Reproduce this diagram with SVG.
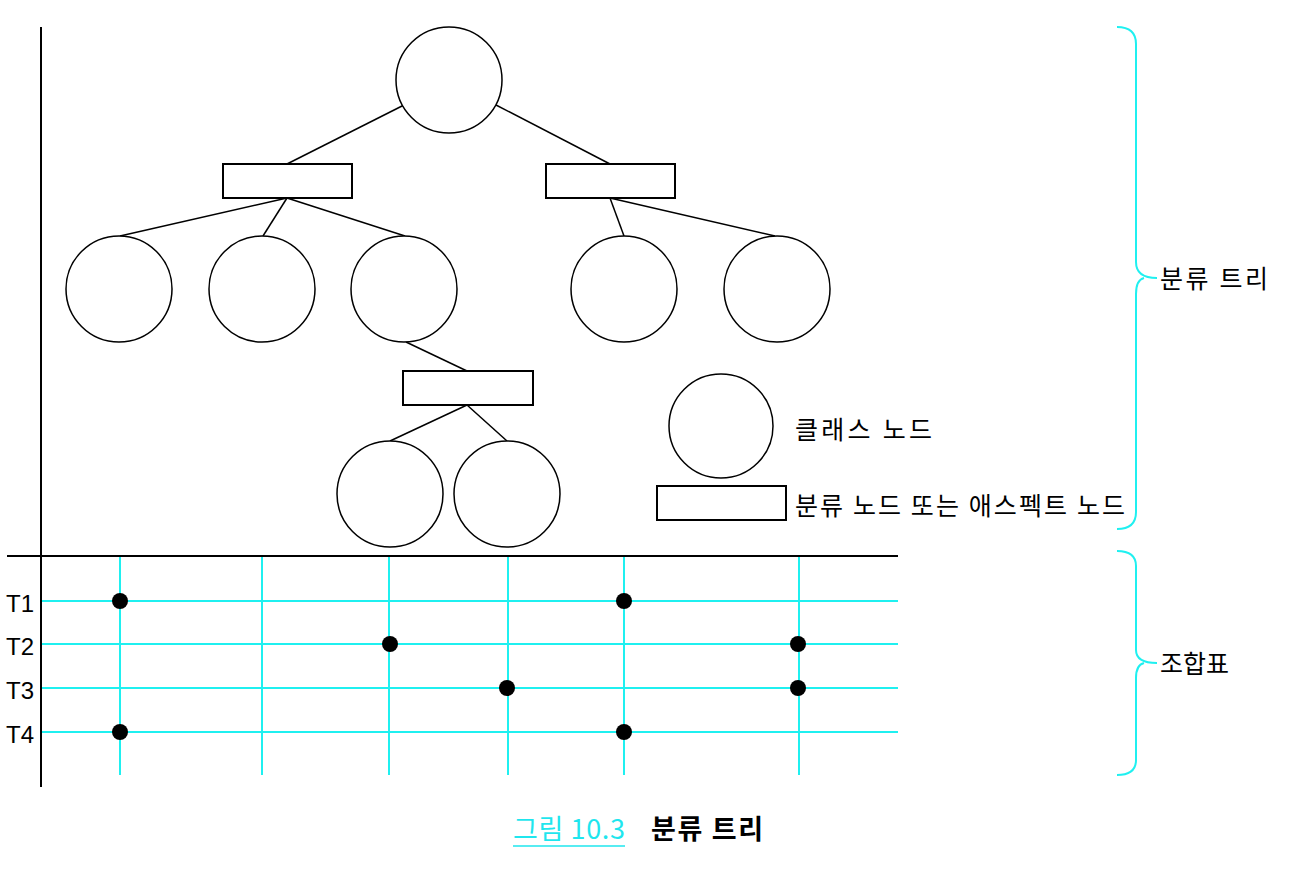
<svg xmlns="http://www.w3.org/2000/svg" width="1312" height="876" viewBox="0 0 1312 876">
<style>
.n{fill:#fff;stroke:#000;stroke-width:1.5}
.r{fill:#fff;stroke:#000;stroke-width:2}
.e{stroke:#000;stroke-width:1.5;fill:none}
.c{stroke:#1ff0f0;stroke-width:2;fill:none}
.ax{stroke:#000;stroke-width:2;fill:none}
.d{fill:#000}
.t{font-family:"Noto Sans CJK KR","Noto Sans",sans-serif;font-size:25px;fill:#000}
.l{font-family:"Liberation Sans",Arial,sans-serif;font-size:24px;fill:#000}
</style>
<rect width="1312" height="876" fill="#fff"/>
<g id="connectors">
<line class="e" x1="404" y1="105" x2="287" y2="164"/>
<line class="e" x1="496" y1="105" x2="610" y2="164"/>
<line class="e" x1="287" y1="198" x2="120" y2="236"/>
<line class="e" x1="287" y1="198" x2="263" y2="236"/>
<line class="e" x1="287" y1="198" x2="405" y2="236"/>
<line class="e" x1="610" y1="198" x2="624" y2="236"/>
<line class="e" x1="610" y1="198" x2="775" y2="236"/>
<line class="e" x1="406" y1="342" x2="467" y2="371"/>
<line class="e" x1="467" y1="405" x2="390" y2="441"/>
<line class="e" x1="467" y1="405" x2="507" y2="441"/>
</g>
<g id="root"><circle class="n" cx="449" cy="80" r="53"/></g>
<g id="rect-left"><rect class="r" x="223" y="164" width="129" height="34"/></g>
<g id="rect-right"><rect class="r" x="546" y="164" width="129" height="34"/></g>
<g id="c1"><circle class="n" cx="119" cy="289" r="53"/></g>
<g id="c2"><circle class="n" cx="262" cy="289" r="53"/></g>
<g id="c3"><circle class="n" cx="404" cy="289" r="53"/></g>
<g id="c4"><circle class="n" cx="624" cy="289" r="53"/></g>
<g id="c5"><circle class="n" cx="777" cy="289" r="53"/></g>
<g id="rect-mid"><rect class="r" x="403" y="371" width="130" height="34"/></g>
<g id="c6"><circle class="n" cx="390" cy="494" r="53"/></g>
<g id="c7"><circle class="n" cx="507" cy="494" r="53"/></g>
<g id="legend-class">
<circle class="n" cx="721" cy="426" r="52"/>
<text class="t" x="795" y="439" textLength="137" lengthAdjust="spacing">클래스 노드</text>
</g>
<g id="legend-facet">
<rect class="r" x="657" y="486" width="129" height="34"/>
<text class="t" x="795" y="515" textLength="330" lengthAdjust="spacing">분류 노드 또는 애스펙트 노드</text>
</g>
<g id="grid">
<line class="c" x1="120" y1="556" x2="120" y2="775"/>
<line class="c" x1="262" y1="556" x2="262" y2="775"/>
<line class="c" x1="389" y1="556" x2="389" y2="775"/>
<line class="c" x1="508" y1="556" x2="508" y2="775"/>
<line class="c" x1="624" y1="556" x2="624" y2="775"/>
<line class="c" x1="799" y1="556" x2="799" y2="775"/>
<line class="c" x1="41" y1="601" x2="898" y2="601"/>
<line class="c" x1="41" y1="644" x2="898" y2="644"/>
<line class="c" x1="41" y1="688" x2="898" y2="688"/>
<line class="c" x1="41" y1="732" x2="898" y2="732"/>
<line class="ax" x1="41" y1="27" x2="41" y2="787"/>
<line class="ax" x1="7" y1="556" x2="898" y2="556"/>
<circle class="d" cx="120" cy="601" r="8"/>
<circle class="d" cx="624" cy="601" r="8"/>
<circle class="d" cx="390" cy="644" r="8"/>
<circle class="d" cx="798" cy="644" r="8"/>
<circle class="d" cx="507" cy="688" r="8"/>
<circle class="d" cx="798" cy="688" r="8"/>
<circle class="d" cx="120" cy="732" r="8"/>
<circle class="d" cx="624" cy="732" r="8"/>
<text class="l" x="6" y="612">T1</text>
<text class="l" x="6" y="655">T2</text>
<text class="l" x="6" y="699">T3</text>
<text class="l" x="6" y="743">T4</text>
</g>
<g id="brace-tree">
<path class="c" d="M1117,27 Q1136,27 1136,44 L1136,262 Q1136,278 1157,278 M1144,278 Q1136,280 1136,294 L1136,512 Q1136,529 1117,529"/>
<text class="t" x="1160" y="288" textLength="108" lengthAdjust="spacing">분류 트리</text>
</g>
<g id="brace-table">
<path class="c" d="M1117,551 Q1136,551 1136,566 L1136,650 Q1136,663 1157,663 M1144,663 Q1136,665 1136,678 L1136,760 Q1136,775 1117,775"/>
<text class="t" x="1160" y="673">조합표</text>
</g>
<g id="caption">
<text x="513" y="839" textLength="112" lengthAdjust="spacing" style="font-family:'Noto Sans CJK KR','Noto Sans',sans-serif;font-size:27px;fill:#1fe6ee">그림 10.3</text>
<line x1="513" y1="846" x2="625" y2="846" stroke="#1fe6ee" stroke-width="1.5"/>
<text x="651" y="839" textLength="112" lengthAdjust="spacing" style="font-family:'Noto Sans CJK KR','Noto Sans',sans-serif;font-size:27px;font-weight:bold;fill:#000">분류 트리</text>
</g>
</svg>
